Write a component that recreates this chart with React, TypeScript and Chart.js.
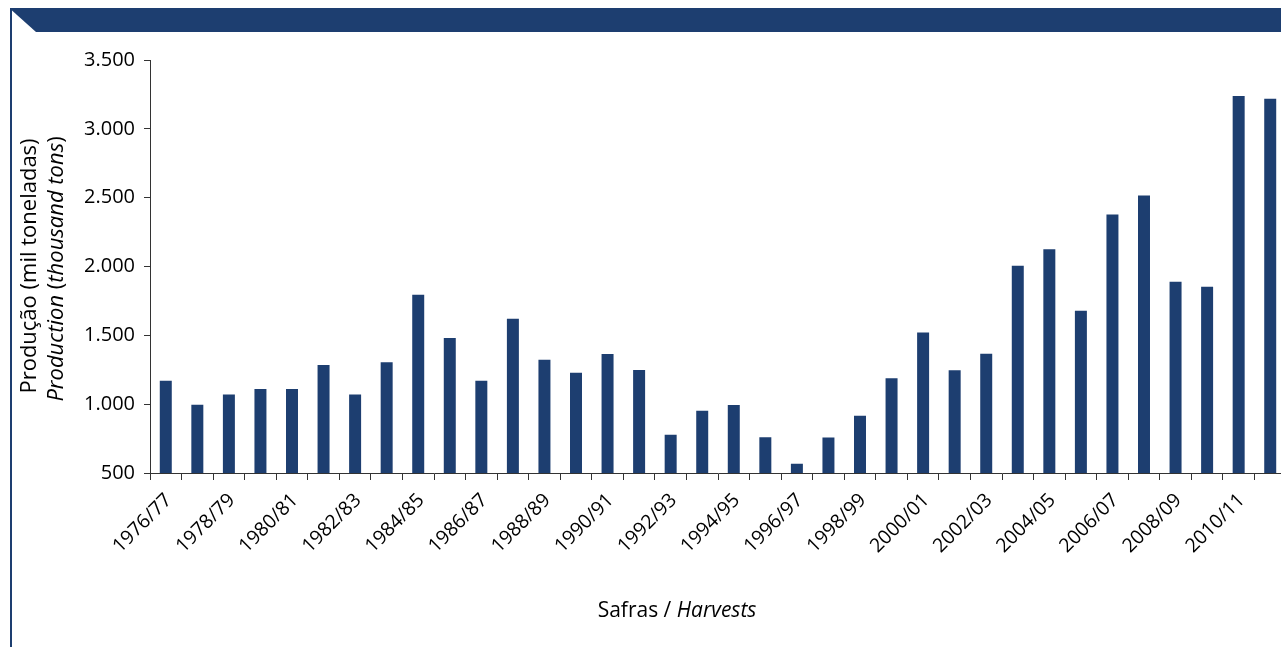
import React, { useEffect, useRef } from 'react';
import { Chart, registerables } from 'chart.js';

Chart.register(...registerables);

const harvests = [
  '1976/77', '1977/78', '1978/79', '1979/80', '1980/81', '1981/82', '1982/83', '1983/84',
  '1984/85', '1985/86', '1986/87', '1987/88', '1988/89', '1989/90', '1990/91', '1991/92',
  '1992/93', '1993/94', '1994/95', '1995/96', '1996/97', '1997/98', '1998/99', '1999/00',
  '2000/01', '2001/02', '2002/03', '2003/04', '2004/05', '2005/06', '2006/07', '2007/08',
  '2008/09', '2009/10', '2010/11', '2011/12',
];

const production = [
  1170, 995, 1070, 1110, 1110, 1285, 1070, 1305,
  1795, 1480, 1170, 1620, 1322, 1228, 1365, 1248,
  778, 953, 994, 760, 567, 758, 915, 1188,
  1520, 1247, 1366, 2006, 2126, 1678, 2377, 2515,
  1890, 1853, 3238, 3218,
];

const yTicks = [500, 1000, 1500, 2000, 2500, 3000, 3500];

const yTitlePt = 'Produção (mil toneladas)';
const yTitleEnParts: [string, boolean][] = [['Production', true], [' (', false], ['thousand tons', true], [')', false]];
const xTitleParts: [string, boolean][] = [['Safras / ', false], ['Harvests', true]];

const BLUE = '#1d3e70';
const FONT = "'Open Sans'";
const VIEW_W = 1281;
const VIEW_H = 647;
const CANVAS_W = 1286;

function fmt(v: number) {
  return String(v).replace(/\B(?=(\d{3})+(?!\d))/g, '.');
}

function drawParts(ctx: CanvasRenderingContext2D, parts: [string, boolean][], size: number) {
  const widths = parts.map(([t, it]) => {
    ctx.font = `${it ? 'italic ' : ''}${size}px ${FONT}`;
    return ctx.measureText(t).width;
  });
  const total = widths.reduce((a, b) => a + b, 0);
  let x = -total / 2;
  ctx.textAlign = 'left';
  parts.forEach(([t, it], i) => {
    ctx.font = `${it ? 'italic ' : ''}${size}px ${FONT}`;
    ctx.fillText(t, x, 0);
    x += widths[i];
  });
}

const framePlugin = {
  id: 'frame',
  beforeDraw(chart: any) {
    const ctx = chart.ctx as CanvasRenderingContext2D;
    ctx.save();
    ctx.fillStyle = '#fff';
    ctx.fillRect(0, 0, chart.width, chart.height);
    ctx.fillStyle = BLUE;
    ctx.fillRect(10, 8, chart.width - 10, 24);
    ctx.fillStyle = '#fff';
    ctx.beginPath();
    ctx.moveTo(12, 10.5);
    ctx.lineTo(36, 32);
    ctx.lineTo(12, 32);
    ctx.closePath();
    ctx.fill();
    ctx.fillStyle = BLUE;
    ctx.fillRect(10, 8, 2, chart.height - 8);
    ctx.restore();
  },
  afterDraw(chart: any) {
    const ctx = chart.ctx as CanvasRenderingContext2D;
    const cy = 266;
    ctx.save();
    ctx.fillStyle = '#000';
    ctx.textBaseline = 'middle';
    ctx.translate(30, cy);
    ctx.rotate(-Math.PI / 2);
    ctx.font = `22px ${FONT}`;
    ctx.textAlign = 'center';
    ctx.fillText(yTitlePt, 0, 0);
    ctx.restore();

    ctx.save();
    ctx.fillStyle = '#000';
    ctx.textBaseline = 'middle';
    ctx.translate(57, cy + 3);
    ctx.rotate(-Math.PI / 2);
    drawParts(ctx, yTitleEnParts, 22);
    ctx.restore();

    ctx.save();
    ctx.fillStyle = '#000';
    ctx.textBaseline = 'middle';
    ctx.translate(677, 611);
    drawParts(ctx, xTitleParts, 21);
    ctx.restore();
  },
};

export default function App() {
  const ref = useRef<HTMLCanvasElement | null>(null);

  useEffect(() => {
    if (!ref.current) return;
    const chart = new Chart(ref.current, {
      type: 'bar',
      data: {
        labels: harvests,
        datasets: [
          {
            data: production,
            backgroundColor: BLUE,
            borderWidth: 0,
            barPercentage: 0.38,
            categoryPercentage: 1,
          },
        ],
      },
      options: {
        responsive: false,
        animation: false,
        devicePixelRatio: 1,
        layout: { padding: { top: 60, left: 0, right: 0, bottom: 0 } },
        plugins: {
          legend: { display: false },
          tooltip: { enabled: false },
          title: { display: false },
        },
        scales: {
          x: {
            type: 'category',
            offset: true,
            grid: {
              display: true,
              offset: true,
              drawOnChartArea: false,
              drawTicks: true,
              tickLength: 7,
              color: '#333',
              lineWidth: 1,
            },
            border: { display: true, color: '#333', width: 1 },
            ticks: {
              autoSkip: false,
              minRotation: 45,
              maxRotation: 45,
              padding: 9,
              labelOffset: 3,
              color: '#000',
              font: { family: FONT, size: 19.5 },
              callback: (_v: any, i: number) => (i % 2 === 0 ? harvests[i] : ''),
            },
            afterFit: (scale: any) => {
              scale.height = 174;
              scale.paddingLeft = 0;
              scale.paddingRight = 0;
            },
          },
          y: {
            type: 'linear',
            min: 500,
            max: 3500,
            grid: {
              display: true,
              drawOnChartArea: false,
              drawTicks: true,
              tickLength: 6,
              color: '#333',
              lineWidth: 1,
            },
            border: { display: true, color: '#333', width: 1 },
            ticks: {
              stepSize: 500,
              padding: 9,
              color: '#000',
              font: { family: FONT, size: 20 },
              callback: (v: any) => fmt(Number(v)),
            },
            afterBuildTicks: (scale: any) => {
              scale.ticks = yTicks.map((v) => ({ value: v }));
            },
            afterFit: (scale: any) => {
              scale.width = 150;
            },
          },
        },
      },
      plugins: [framePlugin],
    });
    return () => chart.destroy();
  }, []);

  return (
    <div style={{ position: 'absolute', left: 0, top: 0, width: VIEW_W, height: VIEW_H, overflow: 'hidden' }}>
      <canvas
        ref={ref}
        width={CANVAS_W}
        height={VIEW_H}
        style={{ display: 'block', width: CANVAS_W, height: VIEW_H }}
      />
    </div>
  );
}
